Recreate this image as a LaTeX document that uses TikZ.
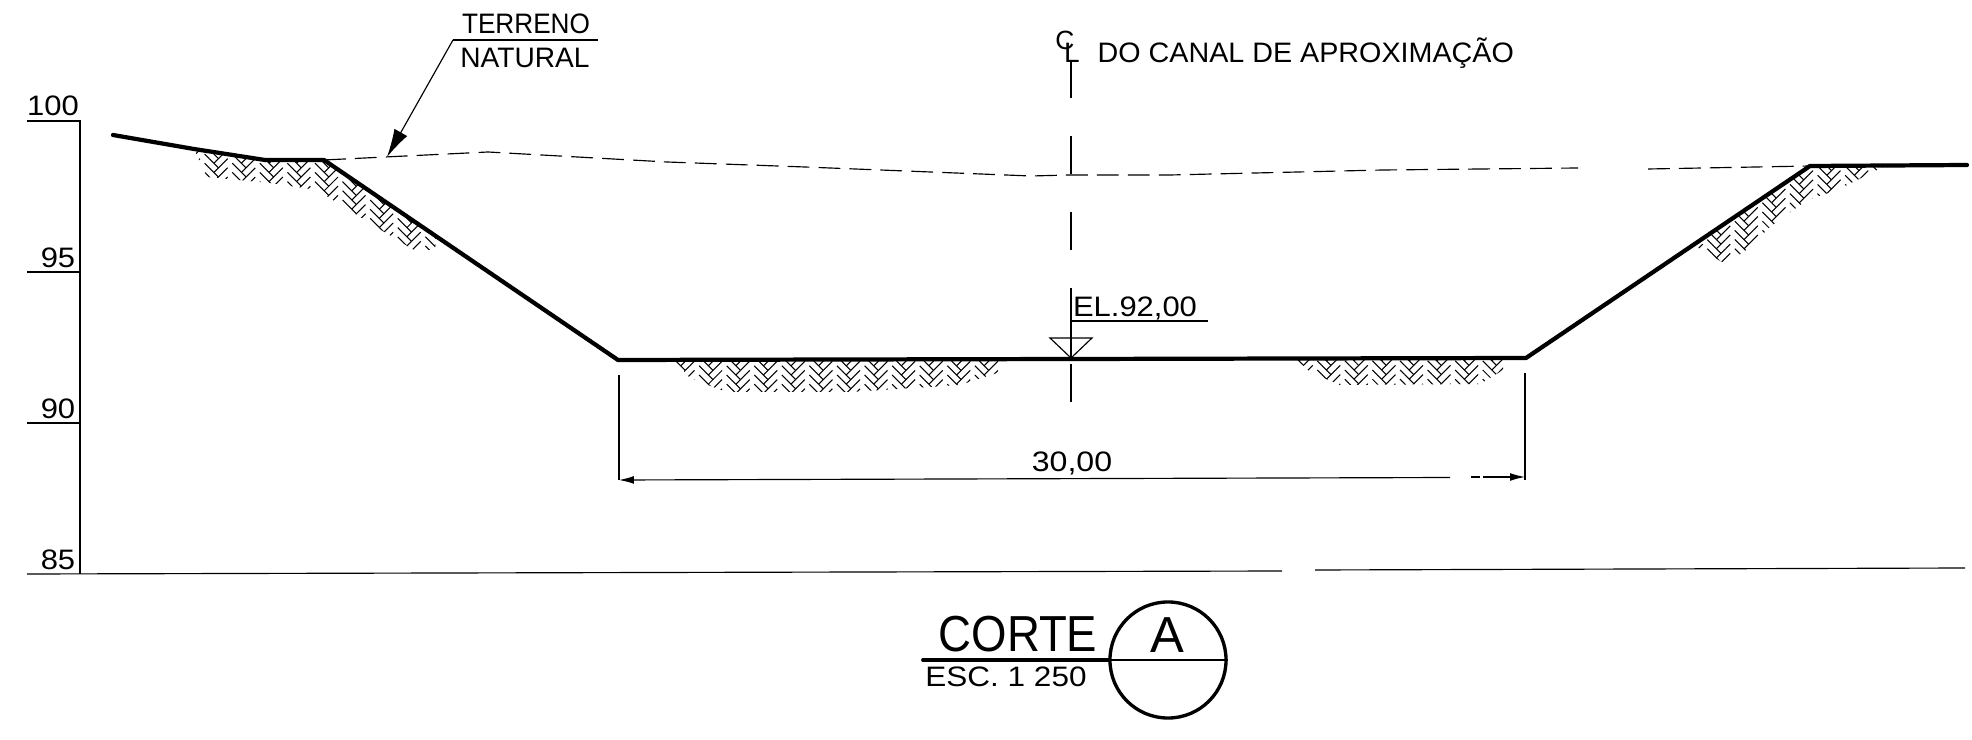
\documentclass[tikz,border=0pt]{standalone}
\usepackage{fontspec}
\usepackage{tikz}
\usetikzlibrary{arrows.meta}
\setmainfont{Liberation Sans}
\tikzset{
	thinline/.style={line width=0.33pt},
	groundline/.style={line width=1.2pt, line join=round, line cap=round},
	dashline/.style={line width=0.33pt, dash pattern=on 6.2pt off 2.6pt},
	axisline/.style={line width=0.33pt, dash pattern=on 10.8pt off 10.8pt},
	hatchline/.style={line width=0.3pt},
	cadtext/.style={inner sep=0pt, transform shape, font=\fontsize{8}{9.6}\selectfont},
	bigtext/.style={inner sep=0pt, transform shape, font=\fontsize{14.4}{17}\selectfont}
}
\newcommand{\herring}[3]{%
	\begin{scope}[shift={(#1,#2)}, rotate=-45, hatchline]
		\foreach \i in {-#3,...,#3} \foreach \j in {-#3,...,#3} {
			\pgfmathtruncatemacro{\m}{mod(\i-\j+600,6)}
			\ifnum\m<3 \draw (\i*6.5,\j*6.5) -- ++(6.5,0);
			\else \draw (\i*6.5,\j*6.5) -- ++(0,6.5); \fi
		}
	\end{scope}
}
\begin{document}
\begin{tikzpicture}[x=0.01cm, y=-0.01cm, >={Latex[length=4.2pt,width=2.2pt]}]
	\useasboundingbox (0,0) rectangle (1972,740);
	
	% elevation scale
	\draw[thinline] (27,121) -- (80,121) -- (80,574);
	\draw[thinline] (27,272) -- (80,272);
	\draw[thinline] (27,423) -- (80,423);
	\node[cadtext, xscale=1.1] (el100) at (53,106) {100};
	\node[cadtext, xscale=1.1] (el95) at (58,258) {95};
	\node[cadtext, xscale=1.1] (el90) at (58,409) {90};
	\node[cadtext, xscale=1.1] (el85) at (58,560) {85};
	
	% base line, broken near the middle
	\draw[thinline] (27,574) -- (1282,571);
	\draw[thinline] (1315,570) -- (1965,568);
	
	% hatching under the ground line
	\begin{scope}
		\clip (194,149) -- (265,160) -- (324,160) -- (436,237) -- (435,250) -- (414,250) -- (368,222) -- (317,190) -- (270,183) -- (207,177) -- cycle;
		\herring{315}{200}{20}
	\end{scope}
	\begin{scope}
		\clip (674,360) -- (1000,360) -- (1000,372) -- (960,385) -- (850,392) -- (726,392) -- (690,378) -- cycle;
		\herring{837}{375}{26}
	\end{scope}
	\begin{scope}
		\clip (1295,358) -- (1503,358) -- (1503,370) -- (1480,384) -- (1340,385) -- (1310,372) -- cycle;
		\herring{1400}{370}{17}
	\end{scope}
	\begin{scope}
		\clip (1697,241) -- (1810,166) -- (1883,167) -- (1837,190) -- (1807,200) -- (1770,227) -- (1743,253) -- (1722,262) -- (1697,247) -- cycle;
		\herring{1790}{212}{20}
	\end{scope}
	
	% excavated profile
	\draw[groundline] (113,135) -- (194,149) -- (265,160) -- (324,160) -- (618,360) -- (1526,358) -- (1810,166) -- (1967,165);
	
	% natural terrain
	\draw[dashline] (324,160) -- (385,157) -- (488,152) -- (667,162) -- (805,167) -- (1031,176) -- (1069,175) -- (1170,175) -- (1383,170) -- (1578,168);
	\draw[dashline] (1648,169) -- (1810,166);
	
	% terrain label and its leader
	\node[cadtext, xscale=0.93] (terreno) at (526,24) {TERRENO};
	\node[cadtext] (natural) at (525,58) {NATURAL};
	\coordinate (shelfL) at (453,40);
	\coordinate (shelfR) at (598,40);
	\coordinate (terrainpt) at (387,157);
	\draw[thinline] (shelfR) -- (shelfL);
	\draw[thinline, -{Latex[length=8pt,width=4.2pt]}] (shelfL) -- (terrainpt);
	
	% centre line
	\draw[axisline] (1071,60) -- (1071,407);
	\node[cadtext, font=\fontsize{7.5}{9}\selectfont] (clC) at (1065,40) {C};
	\node[cadtext] (clL) at (1072,53) {L};
	\node[cadtext, anchor=west, xscale=1.02] (title) at (1097,53) {DO CANAL DE APROXIMAÇÃO};
	
	% level mark
	\node[cadtext, xscale=1.1] (level) at (1135,308) {EL.92,00};
	\coordinate (levelL) at (1071,321);
	\coordinate (levelR) at (1208,321);
	\draw[thinline] (levelL) -- (levelR);
	\draw[thinline] (1071,289) -- (levelL) -- (1071,358);
	\draw[thinline] (1050,338) -- (1092,338) -- (1071,358) -- cycle;
	
	% width dimension
	\coordinate (dimL) at (619,480);
	\coordinate (dimR) at (1525,477);
	\draw[thinline] (619,375) -- (dimL);
	\draw[thinline] (1525,373) -- (1525,480);
	\draw[thinline, <-] (dimL) -- (1450,477.5);
	\draw[thinline] (1471,477) -- (1480,477);
	\draw[thinline, ->] (1483,477) -- (dimR);
	\node[cadtext, xscale=1.14] (width) at (1072,463) {30,00};
	
	% section title
	\node[bigtext, xscale=0.9] (corte) at (1018,634) {CORTE};
	\node[cadtext, xscale=1.12] (scale) at (1006,677) {ESC. 1 250};
	\node[bigtext] (letter) at (1167,635) {A};
	\node[draw, circle, line width=0.95pt, minimum size=1.16cm, inner sep=0pt] (bubble) at (1168,660) {};
	\coordinate (ruleL) at (923,660);
	\draw[line width=1.1pt, line cap=round] (ruleL) -- (bubble.west);
	\draw[line width=0.8pt] (bubble.west) -- (bubble.east);
\end{tikzpicture}
\end{document}
